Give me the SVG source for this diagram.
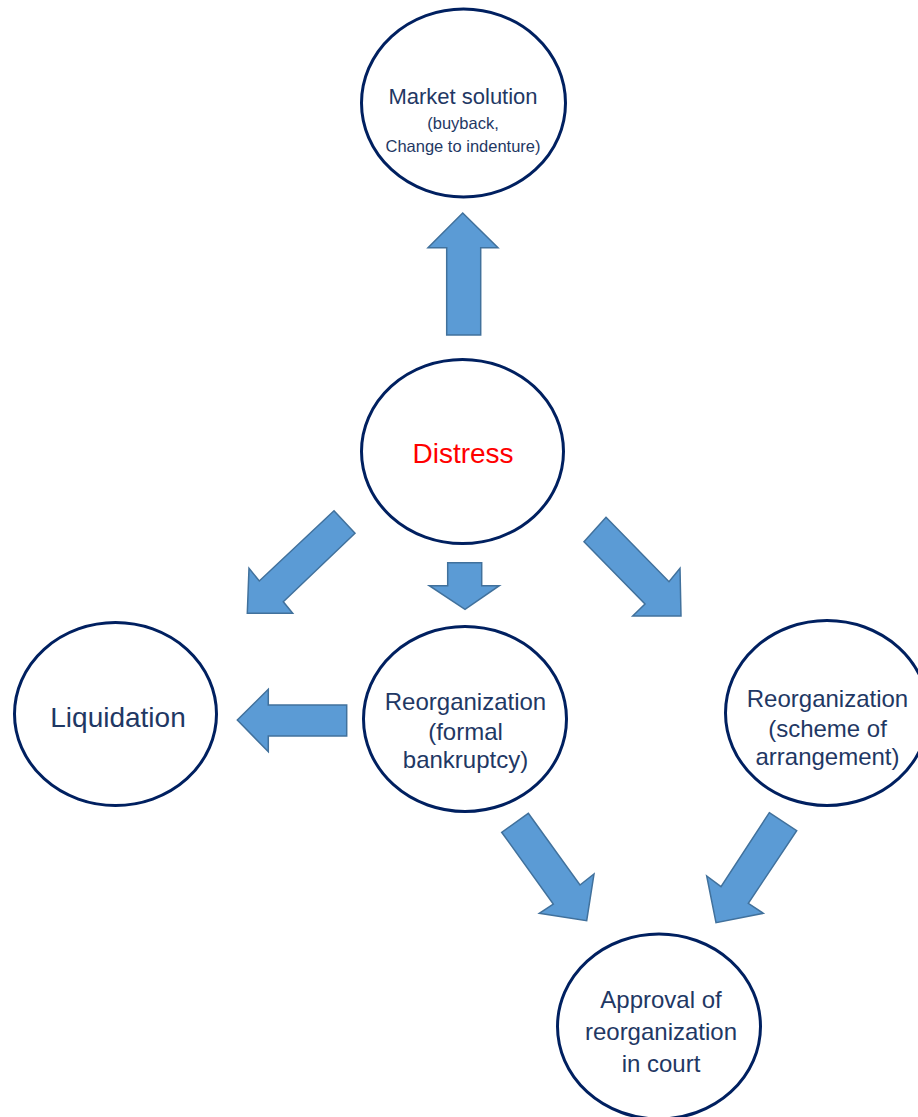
<svg xmlns="http://www.w3.org/2000/svg" width="918" height="1117" viewBox="0 0 918 1117">
<style>
.node ellipse{fill:#FFFFFF;stroke:#002060;stroke-width:3}
.t{font-family:"Liberation Sans",Arial,sans-serif;fill:#1F3864;text-anchor:middle}
.arrow{fill:#5B9BD5;stroke:#41719C;stroke-width:1.5;stroke-linejoin:miter}
</style>
<rect width="918" height="1117" fill="#FFFFFF"/>
<g id="connectors">
<polygon class="arrow" points="462.7,213 498,247.7 480.7,247.7 480.7,335 446.7,335 446.7,247.7 428,247.7"/>
<polygon class="arrow" points="447.7,562.7 481.7,562.7 481.7,585.7 499.3,585.7 465,609.3 429.3,585.7 447.7,585.7"/>
<polygon class="arrow" points="334,510.7 355,533.3 283.3,601.7 292.7,613.3 247.3,613.3 249,568.3 259.3,581"/>
<polygon class="arrow" points="606,517.3 669,581.7 680,568.3 681,616 632.7,616 645,604 584,541.7"/>
<polygon class="arrow" points="237.3,720 268.3,689.3 268.3,705 346.7,705 346.7,736 268.3,736 268.3,751.7"/>
<polygon class="arrow" points="528.3,813.3 580,885 594,874 586.7,920.7 539.3,913.3 553.3,904 501.7,832.3"/>
<polygon class="arrow" points="769.3,812.7 796.7,830.7 748.3,903.3 763.3,913.3 716,922.7 706.7,876 721,886.7"/>
</g>
<g id="market" class="node">
<ellipse cx="463.5" cy="103" rx="102" ry="94"/>
<text class="t" x="463" y="104" font-size="22">Market solution</text>
<text class="t" x="463" y="129" font-size="16.5">(buyback,</text>
<text class="t" x="463" y="152" font-size="16.5">Change to indenture)</text>
</g>
<g id="distress" class="node">
<ellipse cx="462.5" cy="451.5" rx="101" ry="92"/>
<text class="t" x="463" y="463" font-size="28" style="fill:#FF0000">Distress</text>
</g>
<g id="liquidation" class="node">
<ellipse cx="115.5" cy="714" rx="101" ry="91.5"/>
<text class="t" x="118" y="727" font-size="28">Liquidation</text>
</g>
<g id="reorg-formal" class="node">
<ellipse cx="465" cy="719" rx="101.5" ry="92.5"/>
<text class="t" x="465.5" y="710" font-size="24">Reorganization</text>
<text class="t" x="465.5" y="740" font-size="24">(formal</text>
<text class="t" x="465.5" y="768" font-size="24">bankruptcy)</text>
</g>
<g id="reorg-scheme" class="node">
<ellipse cx="827" cy="713" rx="101.5" ry="92.5"/>
<text class="t" x="827.5" y="707" font-size="24">Reorganization</text>
<text class="t" x="827.5" y="737" font-size="24">(scheme of</text>
<text class="t" x="827.5" y="765" font-size="24">arrangement)</text>
</g>
<g id="approval" class="node">
<ellipse cx="659" cy="1026.5" rx="101.5" ry="92.5"/>
<text class="t" x="661" y="1008" font-size="24">Approval of</text>
<text class="t" x="661" y="1040" font-size="24">reorganization</text>
<text class="t" x="661" y="1072" font-size="24">in court</text>
</g>
</svg>
